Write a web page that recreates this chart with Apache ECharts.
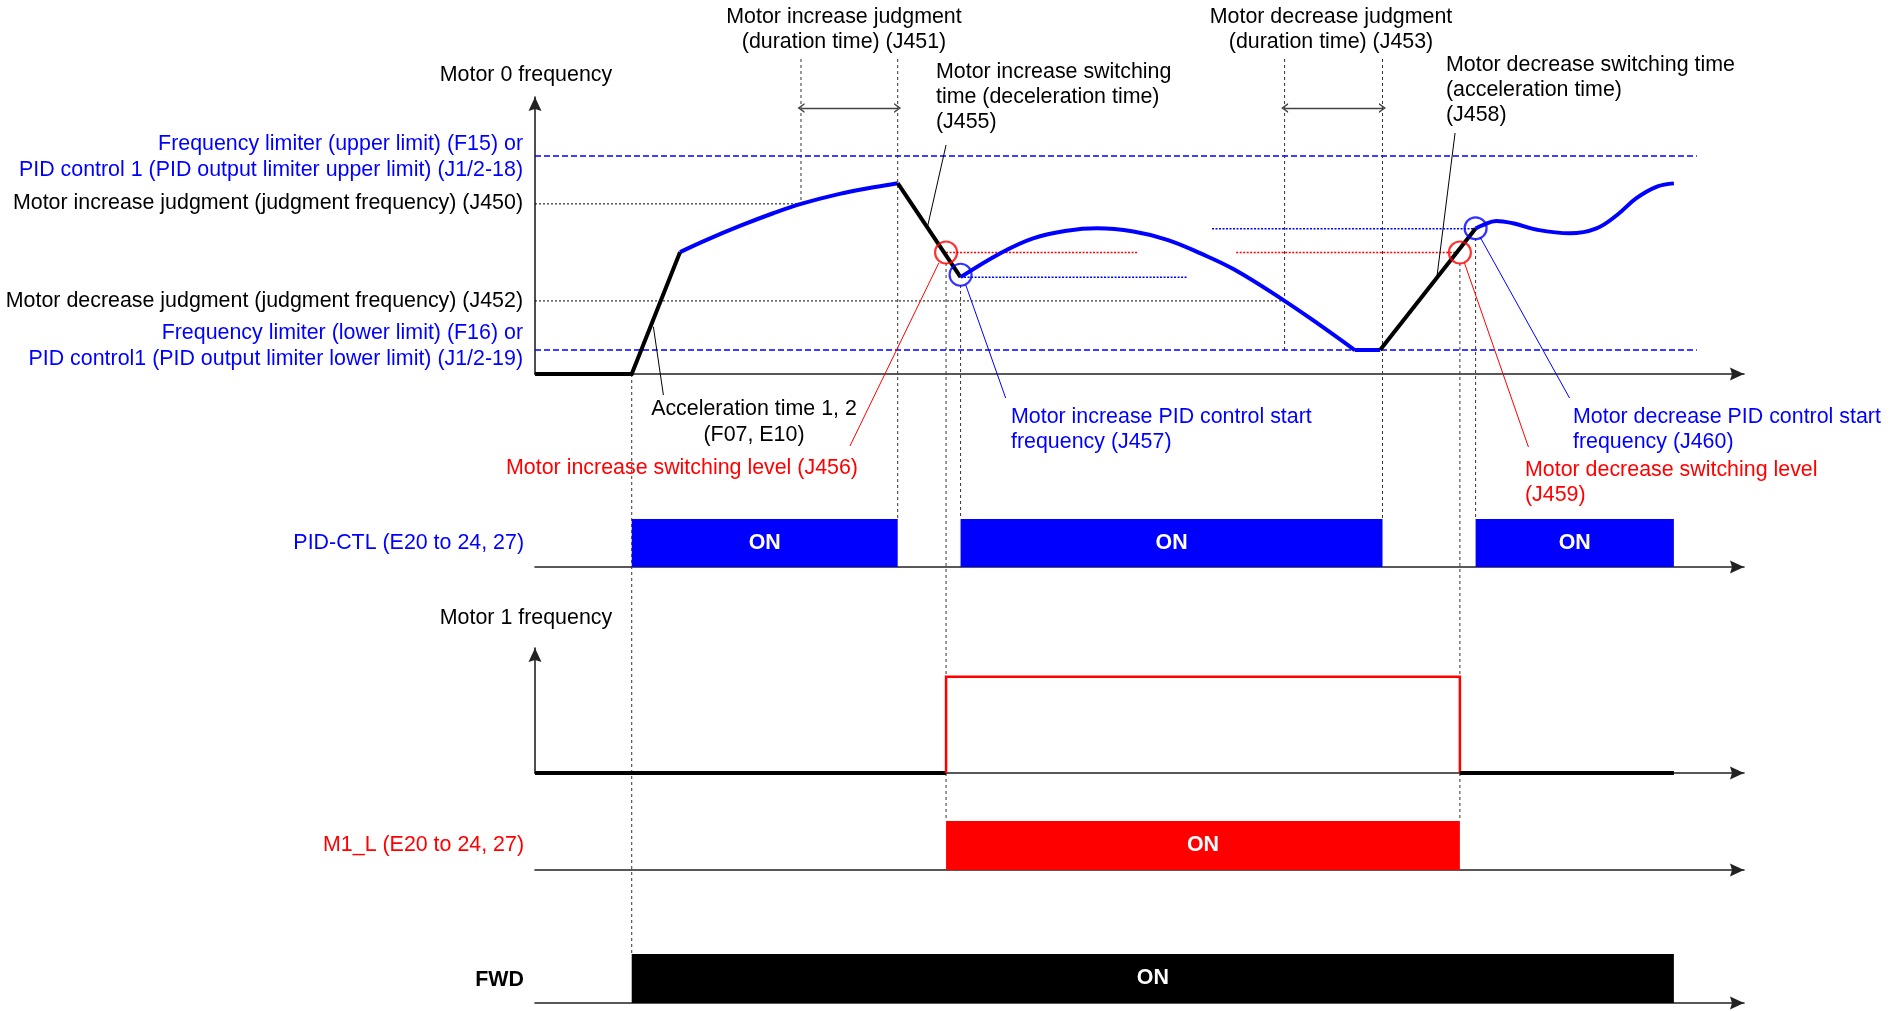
<!DOCTYPE html>
<html><head><meta charset="utf-8">
<script src="https://cdn.jsdelivr.net/npm/echarts@6/dist/echarts.min.js"></script>
<style>html,body{margin:0;padding:0;background:#fff}#c{width:1893px;height:1011px}</style>
</head><body><div id="c"></div>
<script>
// ---- DATA (time axis 0..100, Motor 0 frequency: upper limit = 100) ----
const timeMax = 100;
const motor0Max = 127;
const motor1Max = 130;

const motor0Black1 = [[0,0],[8,0],[12,55.9]];
const motor0Blue1 = [[12,55.9],[14.2,61.5],[17,68],[19.7,73.7],[22,78],[25.2,82.6],[28,85.6],[30,87.5]];
const motor0Black2 = [[30,87.5],[35.2,44.4]];
const motor0Blue2 = [[35.2,44.4],[38.5,55.4],[41.2,62.2],[44,65.7],[46.5,66.8],[49.5,65.3],[52.3,61.5],[55,55.4],[57.8,48],[61.9,33.9],[64.7,23.3],[67.8,11]];
const motor0BlueFlat = [[67.8,11],[69.9,11]];
const motor0Black3 = [[69.9,11],[77.8,66.7]];
const motor0Blue3 = [[77.8,66.7],[78.4,68.3],[79.5,70.2],[80.9,69.1],[82.9,66.1],[85.6,64.5],[87.8,66.8],[89.5,72.9],[91.1,80.6],[92.8,85.9],[94.2,87.4]];

const upperLimit = 100, lowerLimit = 11, j450Level = 78, j452Level = 33.5;
const limitLineEnd = 96.1;
const j456Level = 55.7, j457Level = 44.4, j459Level = 55.7, j460Level = 66.6;
const j456Span = [34, 49.9], j457Span = [35.2, 54], j459Span = [58, 76.5], j460Span = [56, 77.8];
const redCircles = [[34,55.7],[76.5,55.7]];
const blueCircles = [[35.2,45.5],[77.8,66.8]];

const motor1Black1 = [[0,0],[34,0]];
const motor1Red = [[34,0],[34,100],[76.5,100],[76.5,0]];
const motor1Black2 = [[76.5,0],[94.2,0]];

const pidOn = [[8,30],[35.2,70.1],[77.8,94.2]];
const m1lOn = [[34,76.5]];
const fwdOn = [[8,94.2]];

const tRun = 8, tJ451a = 22, tJ451b = 30, tJ456 = 34, tJ457 = 35.2, tJ453a = 62, tJ453b = 70.1, tJ459 = 76.5, tJ460 = 77.8;

// ---- LAYOUT ----
const FONT = '"Liberation Sans", Arial, sans-serif';
const FS = '21.4px ';
const L = 535, R = 149;
const ARROW = 'path://M0,14 L6.5,0 L13,14 L6.5,12 Z';
const CHEVRON = 'path://M0,10 L5,0 L10,10 L8.3,10 L5,3.4 L1.7,10 Z';
const grids = [
  {left:L, right:R, top:97, height:277},
  {left:L, right:R, top:519, height:48},
  {left:L, right:R, top:648, height:125},
  {left:L, right:R, top:821, height:49},
  {left:L, right:R, top:954, height:49},
  {left:L, right:R, top:0, height:1011}
];
const axisLineStyle = {color:'#222', width:1.6};
const xAxes = grids.map((g,i) => ({
  gridIndex:i, type:'value', min:0, max:timeMax, show: i < 5,
  axisLine:{show:true, onZero:false, symbol:['none',ARROW], symbolSize:[13,14], symbolOffset:[0,-7], lineStyle:axisLineStyle},
  axisTick:{show:false}, axisLabel:{show:false}, splitLine:{show:false}
}));
const yArrowAxis = (i, max) => ({gridIndex:i, type:'value', min:0, max,
  axisLine:{show:true, symbol:['none',ARROW], symbolSize:[13,14], symbolOffset:[0,-7], lineStyle:axisLineStyle},
  axisTick:{show:false}, axisLabel:{show:false}, splitLine:{show:false}});
const yAxes = [
  yArrowAxis(0, motor0Max),
  {gridIndex:1, type:'value', min:0, max:1, show:false},
  yArrowAxis(2, motor1Max),
  {gridIndex:3, type:'value', min:0, max:1, show:false},
  {gridIndex:4, type:'value', min:0, max:1, show:false},
  {gridIndex:5, type:'value', min:0, max:1011, inverse:true, show:false}
];

function lineS(data, g, color, width, type, smooth, z) {
  return {type:'line', xAxisIndex:g, yAxisIndex:g, data, symbol:'none', smooth: smooth || false,
    lineStyle:{color, width, type: type || 'solid', cap:'butt', join:'miter'}, silent:true, animation:false, z: z || 3, clip:false};
}
function hLine(level, x0, x1, color, width, type) {
  return lineS([[x0, level],[x1, level]], 0, color, width, type, false, 2);
}
function boxS(data, g, color) {
  return {type:'custom', xAxisIndex:g, yAxisIndex:g, data, silent:true, clip:false,
    renderItem(params, api) {
      const p0 = api.coord([api.value(0), 1]);
      const p1 = api.coord([api.value(1), 0]);
      return {type:'group', children:[
        {type:'rect', shape:{x:p0[0], y:p0[1], width:p1[0]-p0[0], height:p1[1]-p0[1]}, style:{fill:color}},
        {type:'text', style:{text:'ON', x:(p0[0]+p1[0])/2, y:(p0[1]+p1[1])/2, align:'center', verticalAlign:'middle', fill:'#fff', font:'bold ' + FS + FONT}}
      ]};
    }};
}
function circleS(data, color) {
  return {type:'scatter', xAxisIndex:0, yAxisIndex:0, data, symbol:'circle', symbolSize:22, silent:true, z:6,
    itemStyle:{color:'rgba(0,0,0,0)', borderColor:color, borderWidth:2.2}};
}

const dashV = [3,3];
const series = [
  // Motor 0 reference lines
  hLine(upperLimit, 0, limitLineEnd, '#0000ff', 1.5, [6,3]),
  hLine(lowerLimit, 0, limitLineEnd, '#0000ff', 1.5, [6,3]),
  hLine(j450Level, 0, tJ451a, '#000', 1, [2,2]),
  hLine(j452Level, 0, tJ453a, '#000', 1, [2,2]),
  hLine(j456Level, j456Span[0], j456Span[1], '#ff0000', 1.5, [2,1.5]),
  hLine(j457Level, j457Span[0], j457Span[1], '#0000ff', 1.5, [2,1.5]),
  hLine(j459Level, j459Span[0], j459Span[1], '#ff0000', 1.5, [2,1.5]),
  hLine(j460Level, j460Span[0], j460Span[1], '#0000ff', 1.5, [2,1.5]),
  // Motor 0 frequency
  lineS(motor0Black1, 0, '#000', 4),
  lineS(motor0Blue1, 0, '#0000ff', 4, 'solid', 0.4),
  lineS(motor0Black2, 0, '#000', 4),
  lineS(motor0Blue2, 0, '#0000ff', 4, 'solid', 0.4),
  lineS(motor0BlueFlat, 0, '#0000ff', 4),
  lineS(motor0Black3, 0, '#000', 4),
  lineS(motor0Blue3, 0, '#0000ff', 4, 'solid', 0.4),
  circleS(redCircles, '#ff0000'),
  circleS(blueCircles, '#0000ff'),
  // signals
  boxS(pidOn, 1, '#0000ff'),
  lineS(motor1Black1, 2, '#000', 4),
  lineS(motor1Red, 2, '#ff0000', 2.5),
  lineS(motor1Black2, 2, '#000', 4),
  boxS(m1lOn, 3, '#ff0000'),
  boxS(fwdOn, 4, '#000'),
  // guides (overlay: x = time, y = page row)
  lineS([[tRun,374],[tRun,954]], 5, '#333', 1, dashV, false, 1),
  lineS([[tJ451a,59],[tJ451a,204]], 5, '#333', 1, dashV, false, 1),
  lineS([[tJ451b,59],[tJ451b,519]], 5, '#333', 1, dashV, false, 1),
  lineS([[tJ456,263],[tJ456,821]], 5, '#333', 1, dashV, false, 1),
  lineS([[tJ457,285],[tJ457,519]], 5, '#333', 1, dashV, false, 1),
  lineS([[tJ453a,59],[tJ453a,350]], 5, '#333', 1, dashV, false, 1),
  lineS([[tJ453b,59],[tJ453b,519]], 5, '#333', 1, dashV, false, 1),
  lineS([[tJ459,263],[tJ459,821]], 5, '#333', 1, dashV, false, 1),
  lineS([[tJ460,238],[tJ460,519]], 5, '#333', 1, dashV, false, 1),
  // leaders
  lineS([[9.79,326.7],[10.62,395]], 5, '#000', 1),
  lineS([[34.0,145],[32.46,227]], 5, '#000', 1),
  lineS([[76.1,133],[74.6,277]], 5, '#000', 1),
  lineS([[26.05,446],[33.4,263]], 5, '#ff0000', 1),
  lineS([[38.93,398],[35.63,285]], 5, '#0000ff', 1),
  lineS([[82.17,447],[76.88,263]], 5, '#ff0000', 1),
  lineS([[85.57,398],[78.17,237]], 5, '#0000ff', 1),
  // duration arrows
  {type:'line', xAxisIndex:5, yAxisIndex:5, data:[], silent:true,
    markLine:{silent:true, symbol:[CHEVRON, CHEVRON], symbolSize:[10,7], label:{show:false},
      lineStyle:{color:'#444', width:1.3, type:'solid'},
      data:[[{coord:[tJ451a,108]},{coord:[tJ451b,108]}],[{coord:[tJ453a,108]},{coord:[tJ453b,108]}]]}}
];

// ---- TEXT ----
const texts = [];
function T(lines, x, y0, align, color, bold, step) {
  lines.forEach((s, i) => texts.push({type:'text', silent:true, z:10, style:{
    text:s, x, y: y0 + i * (step || 25.3), align, verticalAlign:'middle', fill:color,
    font:(bold ? 'bold ' : '') + FS + FONT}}));
}
const BLK = '#000', BLU = '#0000ff', RED = '#ff0000';
T(['Motor increase judgment','(duration time) (J451)'], 844, 17, 'center', BLK);
T(['Motor decrease judgment','(duration time) (J453)'], 1331, 17, 'center', BLK);
T(['Motor 0 frequency'], 526, 75.5, 'center', BLK);
T(['Motor increase switching','time (deceleration time)','(J455)'], 936, 72, 'left', BLK);
T(['Motor decrease switching time','(acceleration time)','(J458)'], 1446, 65, 'left', BLK);
T(['Frequency limiter (upper limit) (F15) or','PID control 1 (PID output limiter upper limit) (J1/2-18)'], 523, 144.5, 'right', BLU, false, 26);
T(['Motor increase judgment (judgment frequency) (J450)'], 523, 203.5, 'right', BLK);
T(['Motor decrease judgment (judgment frequency) (J452)'], 523, 301, 'right', BLK);
T(['Frequency limiter (lower limit) (F16) or','PID control1 (PID output limiter lower limit) (J1/2-19)'], 523, 333.5, 'right', BLU, false, 26);
T(['Acceleration time 1, 2','(F07, E10)'], 754, 409, 'center', BLK, false, 26);
T(['Motor increase switching level (J456)'], 682, 468.5, 'center', RED);
T(['Motor increase PID control start','frequency (J457)'], 1011, 417.5, 'left', BLU, false, 24.5);
T(['Motor decrease PID control start','frequency (J460)'], 1573, 417.5, 'left', BLU, false, 24.5);
T(['Motor decrease switching level','(J459)'], 1525, 470, 'left', RED, false, 25);
T(['PID-CTL (E20 to 24, 27)'], 524, 543.5, 'right', BLU);
T(['Motor 1 frequency'], 526, 618.5, 'center', BLK);
T(['M1_L (E20 to 24, 27)'], 524, 845, 'right', RED);
T(['FWD'], 524, 980, 'right', BLK, true);

const chart = echarts.init(document.getElementById('c'), null, {renderer:'canvas'});
chart.setOption({
  animation:false,
  backgroundColor:'#fff',
  grid:grids, xAxis:xAxes, yAxis:yAxes, series,
  graphic:texts
});
</script>
</body></html>
